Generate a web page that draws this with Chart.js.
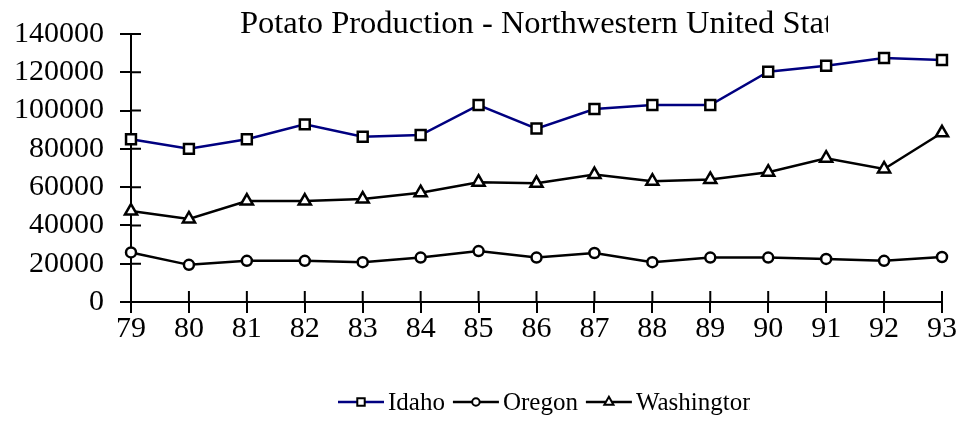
<!DOCTYPE html>
<html>
<head>
<meta charset="utf-8">
<script src="https://cdn.jsdelivr.net/npm/chart.js@4/dist/chart.umd.min.js"></script>
<style>
  html, body { margin: 0; padding: 0; background: #fff; }
  #wrap { width: 960px; height: 433px; }
</style>
</head>
<body>
<div id="wrap"><canvas id="potatoChart"></canvas></div>
<script>
var years = ["79", "80", "81", "82", "83", "84", "85", "86", "87", "88", "89", "90", "91", "92", "93"];
var idaho = [85000, 80000, 85000, 92800, 86300, 87200, 102900, 90600, 100800, 102900, 102900, 120300, 123400, 127500, 126400];
var oregon = [25900, 19400, 21500, 21500, 20800, 23200, 26600, 23200, 25600, 20800, 23200, 23200, 22500, 21500, 23500];
var washington = [47500, 43400, 52700, 52700, 53800, 57100, 62600, 62000, 66600, 63100, 64000, 67800, 75100, 69500, 88400];
var yTicks = [0, 20000, 40000, 60000, 80000, 100000, 120000, 140000];
var titleText = "Potato Production - Northwestern United States";

var serif = "'Liberation Serif', 'Times New Roman', serif";

// title is cut off at the right, like the original picture
var clippedTitle = {
    id: 'clippedTitle',
    afterDraw: function (chart) {
        var ctx = chart.ctx;
        ctx.save();
        ctx.beginPath();
        ctx.rect(0, 0, 828, 50);
        ctx.clip();
        ctx.fillStyle = '#000';
        ctx.font = '32.5px ' + serif;
        ctx.textBaseline = 'alphabetic';
        ctx.textAlign = 'left';
        ctx.fillText(titleText, 240, 33);
        ctx.restore();
    }
};

// tick marks cross the axes
var crossTicks = {
    id: 'crossTicks',
    afterDraw: function (chart) {
        var ctx = chart.ctx;
        var x = chart.scales.x, y = chart.scales.y;
        ctx.save();
        ctx.strokeStyle = '#000';
        ctx.lineWidth = 2;
        ctx.beginPath();
        y.ticks.forEach(function (t, i) {
            var py = y.getPixelForTick(i);
            ctx.moveTo(x.left, py);
            ctx.lineTo(x.left + 10, py);
        });
        x.ticks.forEach(function (t, i) {
            var px = x.getPixelForTick(i);
            ctx.moveTo(px, y.bottom);
            ctx.lineTo(px, y.bottom - 11);
        });
        ctx.stroke();
        ctx.restore();
    }
};

// legend: line + marker + label, cut at the right edge
var lineLegend = {
    id: 'lineLegend',
    afterDraw: function (chart) {
        var ctx = chart.ctx;
        var cy = 402;
        var px = 338;
        ctx.save();
        ctx.beginPath();
        ctx.rect(0, 360, 750, 73);
        ctx.clip();
        ctx.font = '25px ' + serif;
        ctx.textBaseline = 'middle';
        ctx.textAlign = 'left';
        chart.data.datasets.forEach(function (ds) {
            ctx.strokeStyle = ds.borderColor;
            ctx.lineWidth = 2.5;
            ctx.beginPath();
            ctx.moveTo(px, cy);
            ctx.lineTo(px + 46, cy);
            ctx.stroke();
            ctx.fillStyle = '#fff';
            ctx.strokeStyle = '#000';
            ctx.lineWidth = 2;
            Chart.helpers.drawPoint(ctx, {
                pointStyle: ds.pointStyle,
                radius: ds.pointRadius * 0.75,
                rotation: 0,
                borderWidth: 2
            }, px + 23, cy);
            ctx.fillStyle = '#000';
            ctx.fillText(ds.label, px + 50, cy + 1);
            px += 50 + ctx.measureText(ds.label).width + 8;
        });
        ctx.restore();
    }
};

var lineData = {
    labels: years,
    datasets: [
        {
            label: "Idaho",
            data: idaho,
            borderColor: '#000080',
            borderWidth: 2.5,
            pointStyle: 'rect',
            pointRadius: 7,
            pointBackgroundColor: '#fff',
            pointBorderColor: '#000',
            pointBorderWidth: 2.5,
            clip: false
        },
        {
            label: "Oregon",
            data: oregon,
            borderColor: '#000',
            borderWidth: 2.5,
            pointStyle: 'circle',
            pointRadius: 5,
            pointBackgroundColor: '#fff',
            pointBorderColor: '#000',
            pointBorderWidth: 2.5,
            clip: false
        },
        {
            label: "Washington",
            data: washington,
            borderColor: '#000',
            borderWidth: 2.5,
            pointStyle: 'triangle',
            pointRadius: 7,
            pointBackgroundColor: '#fff',
            pointBorderColor: '#000',
            pointBorderWidth: 2.5,
            clip: false
        }
    ]
};

var lineOptions = {
    responsive: true,
    maintainAspectRatio: false,
    animation: false,
    layout: { padding: { left: 0, right: 18, top: 29, bottom: 0 } },
    plugins: {
        legend: { display: false },
        title: { display: false },
        tooltip: { enabled: false }
    },
    elements: { line: { tension: 0 } },
    scales: {
        x: {
            offset: false,
            afterFit: function (s) { s.height = 131; },
            grid: { drawOnChartArea: false, drawTicks: true, tickLength: 11, color: '#000', lineWidth: 2 },
            border: { color: '#000', width: 2 },
            ticks: { color: '#000', font: { family: serif, size: 30 }, padding: -2, maxRotation: 0, autoSkip: false }
        },
        y: {
            min: 0,
            max: 140000,
            afterFit: function (s) { s.width = 131; },
            afterBuildTicks: function (s) { s.ticks = yTicks.map(function (v) { return {value: v}; }); },
            grid: { drawOnChartArea: false, drawTicks: true, tickLength: 11, color: '#000', lineWidth: 2 },
            border: { color: '#000', width: 2 },
            ticks: {
                color: '#000',
                font: { family: serif, size: 30 },
                padding: 16,
                autoSkip: false,
                callback: function (v) { return String(v); }
            }
        }
    }
};

var ctx = document.getElementById("potatoChart").getContext("2d");
new Chart(ctx, {type: 'line', data: lineData, options: lineOptions, plugins: [clippedTitle, crossTicks, lineLegend]});
</script>
</body>
</html>
